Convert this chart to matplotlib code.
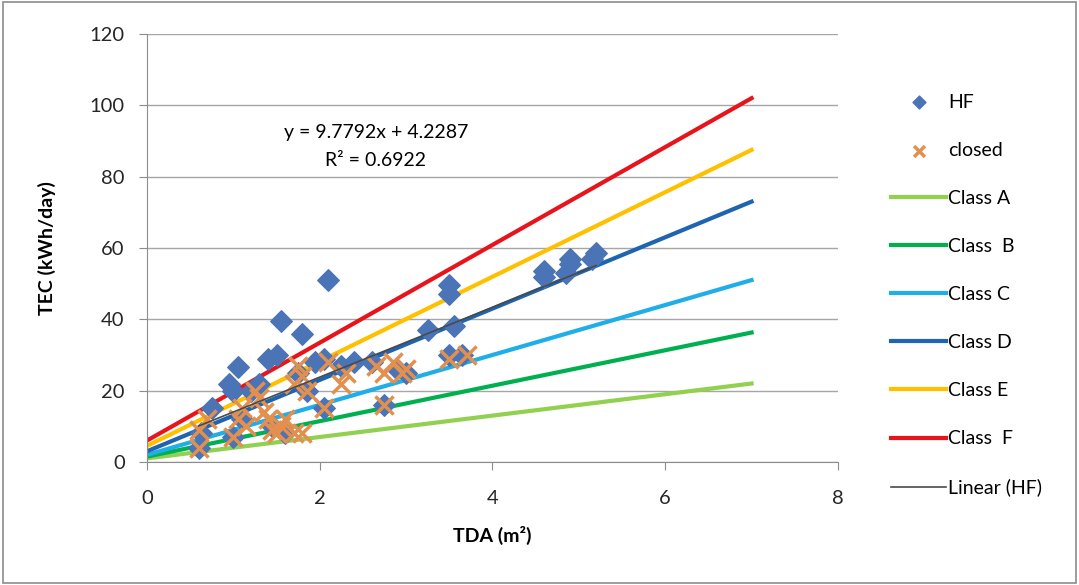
import numpy as np
import matplotlib.pyplot as plt
from matplotlib.patches import Rectangle

plt.rcParams['font.family'] = ['Lato', 'DejaVu Sans']

# -----------------------------
# Data
# -----------------------------
hf_x = [0.6, 0.62, 0.75, 0.95, 1.0, 1.05, 1.0, 1.1, 1.2, 1.3, 1.4, 1.5, 1.55,
        1.45, 1.6, 1.8, 1.75, 1.85, 1.95, 2.05, 2.1, 2.05, 2.25, 2.4, 2.6,
        2.75, 2.9, 3.0, 3.25, 3.5, 3.5, 3.55, 3.5, 3.65, 4.6, 4.6, 4.85,
        4.9, 4.9, 5.15, 5.2]
hf_y = [4, 8, 15, 22, 20, 26.5, 7, 12, 20, 22, 29, 30, 39.5,
        10, 8, 36, 25, 20, 28, 29, 51, 15, 27, 28, 28,
        16, 26, 25, 37, 49.5, 47, 38, 30, 30, 52, 53.5, 53,
        55.5, 57, 57, 58.5]

closed_x = [0.6, 0.6, 0.7, 1.0, 1.05, 1.1, 1.15, 1.25, 1.3, 1.35, 1.4, 1.45,
            1.5, 1.55, 1.6, 1.7, 1.8, 1.7, 1.8, 1.85, 1.75, 2.05, 2.1, 2.25,
            2.3, 2.65, 2.75, 2.75, 2.85, 2.95, 3.0, 3.5, 3.7]
closed_y = [4, 9, 12, 7, 12, 15, 10, 20, 18, 14, 12, 9,
            8, 10, 12, 8, 8, 22, 24, 20, 27, 15, 28, 22,
            25, 27, 16, 25, 28, 25, 26, 29, 30]

# class limit lines: value at x=0 and at x=7
class_names = ['Class A', 'Class  B', 'Class C', 'Class D', 'Class E', 'Class  F']
class_start = [1.0, 1.5, 2.0, 3.0, 4.5, 6.0]
class_end = [22.0, 36.3, 51.0, 73.0, 87.5, 102.0]
class_x = [0, 7]

fit_slope = 9.7792
fit_icpt = 4.2287

class_colors = ['#92D050', '#00B050', '#1FAEE8', '#1F64B0', '#FFC000', '#E8141C']

# -----------------------------
# Plot
# -----------------------------
fig = plt.figure(figsize=(10.79, 5.85), dpi=100)
ax = fig.add_axes([0.1362, 0.2103, 0.6404, 0.7316])

for name, y0, y1, c in zip(class_names, class_start, class_end, class_colors):
    ax.plot(class_x, [y0, y1], color=c, lw=3, label=name, zorder=2)

ax.scatter(hf_x, hf_y, marker='D', s=120, color='#4A74B5', label='HF', zorder=3)
ax.scatter(closed_x, closed_y, marker='x', s=170, linewidths=2.5,
           color='#E3904F', label='closed', zorder=4)

fx = np.array([min(hf_x), max(hf_x)])
ax.plot(fx, fit_slope * fx + fit_icpt, color='#4A4A4A', lw=1.2,
        label='Linear (HF)', zorder=5)

ax.text(2.65, 92.5, 'y = 9.7792x + 4.2287', ha='center', va='center', fontsize=14)
ax.text(2.65, 84.5, 'R² = 0.6922', ha='center', va='center', fontsize=14)

ax.set_xlim(0, 8)
ax.set_ylim(0, 120)
ax.set_xticks([0, 2, 4, 6, 8])
ax.set_yticks(range(0, 121, 20))
ax.yaxis.grid(True, color='#A6A6A6', lw=1)
ax.set_axisbelow(True)
for s in ['top', 'right']:
    ax.spines[s].set_visible(False)
for s in ['left', 'bottom']:
    ax.spines[s].set_color('#8C8C8C')
ax.tick_params(colors='#8C8C8C', labelcolor='#262626', labelsize=14.5, length=6)
ax.tick_params(axis='x', pad=14)
ax.tick_params(axis='y', pad=10)
ax.set_xlabel('TDA (m²)', fontsize=14, fontweight='bold', labelpad=14)
ax.set_ylabel('TEC (kWh/day)', fontsize=14, fontweight='bold', labelpad=24)

handles, labels = ax.get_legend_handles_labels()
order = ['HF', 'closed'] + class_names + ['Linear (HF)']
hmap = dict(zip(labels, handles))
leg = fig.legend([hmap[k] for k in order], order, loc='upper left',
                 bbox_to_anchor=(0.81, 0.87), frameon=False, fontsize=14,
                 labelspacing=1.6, handlelength=2.8, handletextpad=0.1,
                 markerscale=0.6)

fig.patches.append(Rectangle((0.003, 0.004), 0.994, 0.992, transform=fig.transFigure,
                             fill=False, edgecolor='#8C8C8C', lw=1.2))

fig.savefig('out.png', dpi=100)
